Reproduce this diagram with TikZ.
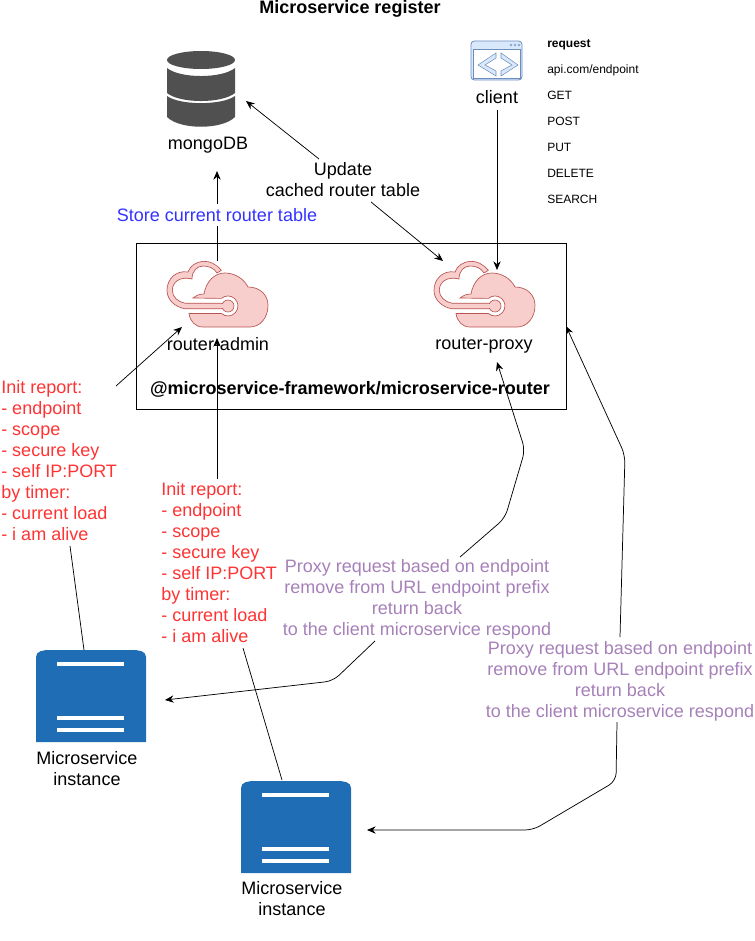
\documentclass[tikz,border=0pt]{standalone}
\usepackage{fontspec}
\setmainfont{Liberation Sans}
\usetikzlibrary{arrows.meta}

\definecolor{dbgray}{HTML}{505050}
\definecolor{cloudfill}{HTML}{F8CECC}
\definecolor{cloudline}{HTML}{B85450}
\definecolor{webfill}{HTML}{DAE8FC}
\definecolor{webline}{HTML}{6C8EBF}
\definecolor{srvblue}{HTML}{1F6DB5}
\definecolor{storeblue}{HTML}{3333FF}
\definecolor{initred}{HTML}{FF3333}
\definecolor{proxypurple}{HTML}{A680B8}

\tikzset{
	flow/.style={-{Stealth[length=6.5pt,width=5.5pt]}, line width=0.55pt, rounded corners=6pt},
	plainline/.style={line width=0.55pt},
	lbl/.style={inner sep=0pt, align=center, font=\fontsize{13.5}{15.7}\selectfont},
	boldlbl/.style={inner sep=0pt, align=center, font=\bfseries\fontsize{13.5}{15.7}\selectfont},
	smalllbl/.style={inner sep=0pt, anchor=west, text height=6.5pt, text depth=2pt, font=\fontsize{9}{11}\selectfont},
	redlbl/.style={inner sep=0pt, align=left, anchor=north west, text=initred, font=\fontsize{13.5}{15.75}\selectfont},
	purplelbl/.style={lbl, text=proxypurple},
	pics/cloudicon/.style={code={
		\draw[cloudline, line width=0.5pt, fill=cloudfill]
			(-6.7,-35.7) .. controls (-12,-42) and (-18,-45) .. (-25,-44.7)
			.. controls (-32,-44) and (-38,-40) .. (-40,-34)
			.. controls (-52,-36) and (-61,-27) .. (-61,-15.7)
			.. controls (-61,-6) and (-53,1) .. (-43,2.8) -- (-5,2.8) -- (-5,-2.8) -- (-43,-2.8)
			.. controls (-50,-4) and (-55.7,-9) .. (-55.7,-15.7)
			.. controls (-55.7,-24) and (-48,-30) .. (-36,-27)
			.. controls (-36,-35) and (-31,-40) .. (-25,-40)
			.. controls (-19,-40) and (-14,-38) .. (-11,-33) -- cycle;
		\draw[cloudline, line width=0.5pt, fill=cloudfill]
			(-35,-8) .. controls (-31,-11) and (-28,-12) .. (-24,-12)
			.. controls (-22,-24) and (-14,-33) .. (-3,-33)
			.. controls (7,-33) and (16,-27) .. (20,-19)
			.. controls (32,-19) and (40,-11) .. (40,-0.7)
			.. controls (40,12) and (32,21) .. (22,21)
			-- (-25,21) .. controls (-33,21) and (-38,15) .. (-39,7.5)
			-- (-6.6,7.5) arc (131:-131:10) -- cycle;
		\draw[cloudline, line width=0.5pt, fill=cloudfill] (0,0) circle (6);
		\fill[cloudfill] (-30,-2.4) rectangle (-4,2.4);
	}},
	pics/srvblock/.style={code={
		\fill[srvblue] (-55,-39) .. controls (-55,-45) and (-48,-46) .. (-41,-46) -- (41,-46)
			.. controls (48,-46) and (55,-45) .. (55,-39) -- (55,46) -- (-55,46) -- cycle;
		\fill[white] (-34,-34) rectangle (33,-30);
		\fill[white] (-34,20) rectangle (33,24);
		\fill[white] (-34,32) rectangle (33,36);
	}},
}

\begin{document}
\begin{tikzpicture}[x=0.75pt, y=-0.75pt]
	\useasboundingbox (0,0) rectangle (755,941);
	% router box
	\draw[line width=0.7pt] (136,243) rectangle (566,409);
	\node[boldlbl] (title) at (350,9) {Microservice register};
	% database
	\fill[dbgray] (201,60) ellipse (34 and 9);
	\fill[dbgray] (167,68) .. controls (180,78.7) and (222,78.7) .. (235,68) -- (235,93) .. controls (222,103.7) and (180,103.7) .. (167,93) -- cycle;
	\fill[dbgray] (167,96) .. controls (180,105.5) and (222,105.5) .. (235,96) -- (235,117) .. controls (222,130) and (180,130) .. (167,117) -- cycle;
	\node[lbl] (mongo) at (208,145) {mongoDB};
	% client window
	\draw[webline, fill=webfill, rounded corners=2.5pt, line width=0.6pt] (471,41) rectangle (522,80);
	\draw[webline, fill=white, line width=0.5pt] (473,49) rectangle (520,78);
	\draw[webline, fill=webfill, line width=0.4pt] (496,53) -- (478,65) -- (496,76) -- (496,71) -- (485,65) -- (496,58) -- cycle;
	\draw[webline, fill=webfill, line width=0.4pt] (501,53) -- (518,65) -- (501,76) -- (501,71) -- (512,65) -- (501,58) -- cycle;
	\foreach \x in {511,515,519} { \draw[webline, line width=0.3pt] (\x,45) circle (1.2); }
	\node[lbl] (client) at (497,97) {client};
	% request list
	\node[smalllbl, font=\bfseries\fontsize{9}{11}\selectfont] (request) at (547,45) {request};
	\node[smalllbl] (api) at (547,71) {api.com/endpoint};
	\node[smalllbl] (get) at (547,97) {GET};
	\node[smalllbl] (post) at (547,123) {POST};
	\node[smalllbl] (put) at (547,149) {PUT};
	\node[smalllbl] (del) at (547,175) {DELETE};
	\node[smalllbl] (search) at (547,201) {SEARCH};
	% clouds
	\pic at (228,306) {cloudicon};
	\pic at (495,306) {cloudicon};
	\node[lbl] (admin) at (218,344) {router-admin};
	\node[lbl] (proxy) at (484,346) {router-proxy};
	\node[boldlbl] (pkg) at (350,389) {@microservice-framework/microservice-router};
	% instances
	\pic at (91,696) {srvblock};
	\pic at (296,827) {srvblock};
	\node[lbl] (inst1) at (87,769) {Microservice\\instance};
	\node[lbl] (inst2) at (292,899) {Microservice\\instance};
	% free ends
	\coordinate (dbtip) at (217,171);
	\coordinate (admintop) at (217,261);
	\coordinate (dbside) at (246,101);
	\coordinate (updfrom) at (319,159);
	\coordinate (updto) at (371,202);
	\coordinate (proxyside) at (443,261);
	\coordinate (clientfrom) at (497,110);
	\coordinate (proxytop) at (497,270);
	\coordinate (adminside) at (182,327);
	\coordinate (adminlow) at (217,338);
	\coordinate (proxylow) at (497,362);
	\coordinate (boxside) at (566,326);
	\coordinate (srvone) at (165,700);
	\coordinate (srvtwo) at (367,830);
	% connectors
	\draw[flow] (admintop) -- (dbtip);
	\draw[flow] (updfrom) -- (dbside);
	\draw[flow] (updto) -- (proxyside);
	\draw[flow] (clientfrom) -- (proxytop);
	\draw[flow] (116,386) -- (adminside);
	\draw[flow] (217,479) -- (adminlow);
	\draw[plainline] (70,546) -- (84,650);
	\draw[plainline] (243,648) -- (282,780);
	\draw[flow] (460,557) -- (505,518) -- (525,450) -- (proxylow);
	\draw[flow] (375,641) -- (333,681) -- (srvone);
	\draw[flow] (620,637) -- (625,455) -- (boxside);
	\draw[flow] (617,722) -- (616,781) -- (533,830) -- (srvtwo);
	% texts
	\node[lbl, text=storeblue, fill=white, inner ysep=3pt, inner xsep=0pt] (store) at (217,215) {Store current router table};
	\node[lbl] (update) at (343,180) {Update\\cached router table};
	\node[redlbl] (initone) at (1,380) {Init report:\\- endpoint\\- scope\\- secure key\\- self IP:PORT\\by timer:\\- current load\\- i am alive};
	\node[redlbl] (inittwo) at (161,482) {Init report:\\- endpoint\\- scope\\- secure key\\- self IP:PORT\\by timer:\\- current load\\- i am alive};
	\node[purplelbl] (proxyone) at (417,599) {Proxy request based on endpoint\\remove from URL endpoint prefix\\return back\\to the client microservice respond};
	\node[purplelbl] (proxytwo) at (620,681) {Proxy request based on endpoint\\remove from URL endpoint prefix\\return back\\to the client microservice respond};
\end{tikzpicture}
\end{document}
